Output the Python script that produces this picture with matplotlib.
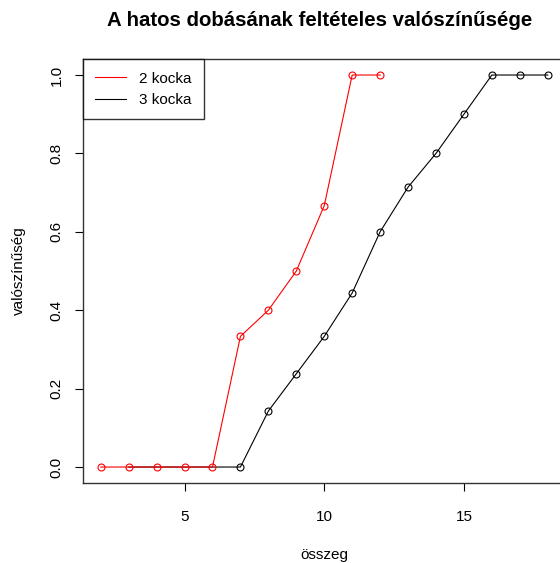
import numpy as np
from matplotlib import pyplot as plt

plt.rcParams['font.family'] = ['Liberation Sans', 'DejaVu Sans']

# 2 dice: sums 2..12
sum2 = list(range(2, 13))
p2 = [0, 0, 0, 0, 0, 1/3, 0.4, 0.5, 2/3, 1, 1]

# 3 dice: sums 3..18
sum3 = list(range(3, 19))
p3 = [0, 0, 0, 0, 0, 1/7, 0.238, 1/3, 0.444, 0.6, 0.714, 0.8, 0.9, 1, 1, 1]

fig = plt.figure(figsize=(5.6, 5.63), dpi=100)
ax = fig.add_axes([0.148, 0.1426, 0.862, 0.752])

# black drawn first, red on top; black circles hidden where red covers them
ax.plot(sum3, p3, color='black', lw=0.8, marker='o', ms=5, mfc='none',
        mew=0.8, markevery=slice(4, None))
ax.plot(sum2, p2, color='red', lw=0.8, marker='o', ms=5, mfc='none', mew=0.8)

ax.set_xlim(1.36, 18.64)
ax.set_ylim(-0.04, 1.04)
ax.set_xticks([5, 10, 15])
ax.set_yticks([0, 0.2, 0.4, 0.6, 0.8, 1.0])
ax.set_yticklabels(['0.0', '0.2', '0.4', '0.6', '0.8', '1.0'], rotation=90, va='center')
ax.tick_params(labelsize=11, length=6, pad=8, color='black')
ax.tick_params(axis='x', pad=14)
for s in ax.spines.values():
    s.set_color('#333333')
    s.set_linewidth(1)

ax.set_xlabel('összeg', fontsize=11, labelpad=17)
ax.set_ylabel('valószínűség', fontsize=11, labelpad=17)
ax.set_title('A hatos dobásának feltételes valószínűsége', fontsize=14.7,
             fontweight='bold', pad=24, x=0.49)

h1, = ax.plot([], [], color='red', lw=0.8)
h2, = ax.plot([], [], color='black', lw=0.8)
leg = ax.legend([h1, h2], ['2 kocka', '3 kocka'], loc='upper left',
                fontsize=11, frameon=True, fancybox=False, borderaxespad=0,
                handlelength=2.0, handletextpad=0.9, labelspacing=0.5,
                borderpad=0.8)
leg.get_frame().set_edgecolor('black')
leg.get_frame().set_linewidth(1)

fig.savefig('out.png', dpi=100)
